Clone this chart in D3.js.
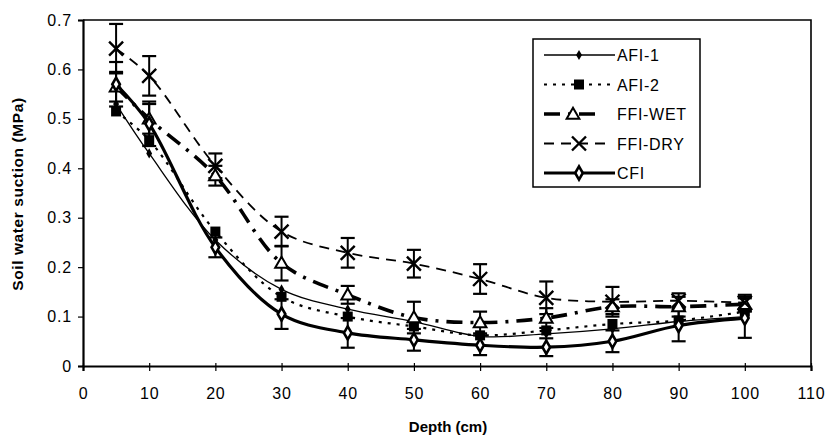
<!DOCTYPE html>
<html>
<head>
<meta charset="utf-8">
<script src="https://cdn.jsdelivr.net/npm/d3@7"></script>
<style>
  body { margin: 0; background: #fff; }
  svg { display: block; font-family: "Liberation Sans", Arial, sans-serif; }
</style>
</head>
<body>
<svg id="chart" width="827" height="439"></svg>
<script>
// depth (cm)
var depths = [5, 10, 20, 30, 40, 50, 60, 70, 80, 90, 100];

// soil water suction (MPa)
var afi1 = [0.53, 0.43, 0.255, 0.155, 0.115, 0.09, 0.06, 0.065, 0.075, 0.09, 0.10];
var afi2 = [0.515, 0.457, 0.272, 0.14, 0.10, 0.08, 0.062, 0.072, 0.085, 0.092, 0.11];
var ffiWet = [0.565, 0.50, 0.385, 0.208, 0.144, 0.098, 0.088, 0.097, 0.12, 0.12, 0.125];
var ffiDry = [0.642, 0.587, 0.405, 0.272, 0.229, 0.207, 0.176, 0.138, 0.13, 0.132, 0.128];
var cfi = [0.57, 0.49, 0.24, 0.105, 0.067, 0.053, 0.042, 0.038, 0.05, 0.082, 0.097];

// error bar half-widths
var ffiWetErr = [0.03, 0.03, 0.02, 0.035, 0.018, 0.032, 0.022, 0.02, 0.015, 0.02, 0.015];
var ffiDryErr = [0.05, 0.04, 0.025, 0.03, 0.03, 0.028, 0.03, 0.033, 0.03, 0.015, 0.016];
var cfiErr = [0.045, 0.045, 0.02, 0.03, 0.03, 0.022, 0.02, 0.018, 0.022, 0.032, 0.04];

var xTicks = [0, 10, 20, 30, 40, 50, 60, 70, 80, 90, 100, 110];
var yTicks = [0, 0.1, 0.2, 0.3, 0.4, 0.5, 0.6, 0.7];

var series = [
  {name: "AFI-1", vals: afi1, err: null, width: 1.3, dash: null, marker: "dot", legEnd: 615},
  {name: "AFI-2", vals: afi2, err: null, width: 2.2, dash: "3,6", marker: "square", legEnd: 615},
  {name: "FFI-WET", vals: ffiWet, err: ffiWetErr, width: 3.6, dash: "16,8,3,8", marker: "triangle", legEnd: 600},
  {name: "FFI-DRY", vals: ffiDry, err: ffiDryErr, width: 1.8, dash: "10,7", marker: "cross", legEnd: 607},
  {name: "CFI", vals: cfi, err: cfiErr, width: 3.2, dash: null, marker: "diamond", legEnd: 615}
];

var svg = d3.select("#chart");
var plotL = 83, plotR = 811, plotT = 20, plotB = 366;

var x = d3.scaleLinear().domain([0, 110]).range([plotL, plotR]);
var y = d3.scaleLinear().domain([0, 0.7]).range([plotB, plotT]);

// plot frame (top and right)
svg.append("path")
  .attr("d", "M" + plotL + "," + plotT + "H" + plotR + "V" + plotB)
  .attr("fill", "none").attr("stroke", "#000").attr("stroke-width", 1.6);

// axes
var yAxis = svg.append("g")
  .attr("transform", "translate(" + plotL + ",0)")
  .call(d3.axisLeft(y).tickValues(yTicks).tickSize(5).tickPadding(6)
    .tickFormat(function(d) { return d === 0 ? "0" : d3.format(".1f")(d); }));
var xAxis = svg.append("g")
  .attr("transform", "translate(0," + plotB + ")")
  .call(d3.axisBottom(x).tickValues(xTicks).tickSize(5).tickPadding(17));
[xAxis, yAxis].forEach(function(a) {
  a.select(".domain").attr("stroke-width", 2.2);
  a.selectAll(".tick line").attr("stroke-width", 1.2);
  a.selectAll(".tick text").attr("font-size", 16).attr("fill", "#000")
    .attr("letter-spacing", 0.8)
    .attr("font-family", "Liberation Sans, Arial, sans-serif");
});
xAxis.selectAll(".tick line").attr("y1", -3);

// axis titles
svg.append("text").attr("x", 448).attr("y", 432).attr("text-anchor", "middle")
  .attr("font-size", 15).attr("font-weight", "bold").text("Depth (cm)");
svg.append("text").attr("transform", "translate(23,194) rotate(-90)")
  .attr("text-anchor", "middle").attr("font-size", 15.5).attr("font-weight", "bold")
  .attr("letter-spacing", 0.6)
  .text("Soil water suction (MPa)");

var line = d3.line().curve(d3.curveCatmullRom)
  .x(function(d, i) { return x(depths[i]); })
  .y(function(d) { return y(d); });

function drawMarker(g, type, cx, cy) {
  if (type === "dot") {
    g.append("path").attr("d", d3.symbol(d3.symbolDiamond, 30)())
      .attr("transform", "translate(" + cx + "," + cy + ")").attr("fill", "#000");
  } else if (type === "square") {
    g.append("rect").attr("x", cx - 5).attr("y", cy - 5).attr("width", 10).attr("height", 10)
      .attr("fill", "#000");
  } else if (type === "triangle") {
    g.append("path").attr("d", d3.symbol(d3.symbolTriangle, 70)())
      .attr("transform", "translate(" + cx + "," + (cy + 1) + ")")
      .attr("fill", "#fff").attr("stroke", "#000").attr("stroke-width", 2);
  } else if (type === "cross") {
    g.append("path").attr("d", "M-7,-7L7,7M-7,7L7,-7")
      .attr("transform", "translate(" + cx + "," + cy + ")")
      .attr("stroke", "#000").attr("stroke-width", 2.4);
  } else if (type === "diamond") {
    g.append("path").attr("d", d3.symbol(d3.symbolDiamond, 50)())
      .attr("transform", "translate(" + cx + "," + cy + ")")
      .attr("fill", "#fff").attr("stroke", "#000").attr("stroke-width", 2.6);
  }
}

// error bars
series.forEach(function(s) {
  if (!s.err) return;
  var g = svg.append("g");
  s.vals.forEach(function(v, i) {
    var cx = x(depths[i]);
    var y0 = y(v - s.err[i]), y1 = y(v + s.err[i]);
    g.append("line").attr("x1", cx).attr("x2", cx).attr("y1", y0).attr("y2", y1)
      .attr("stroke", "#000").attr("stroke-width", 2);
    [y0, y1].forEach(function(yy) {
      g.append("line").attr("x1", cx - 7).attr("x2", cx + 7).attr("y1", yy).attr("y2", yy)
        .attr("stroke", "#000").attr("stroke-width", 2.2);
    });
  });
});

// series lines and markers
series.forEach(function(s) {
  var g = svg.append("g");
  g.append("path").attr("d", line(s.vals)).attr("fill", "none")
    .attr("stroke", "#000").attr("stroke-width", s.width)
    .attr("stroke-dasharray", s.dash);
  s.vals.forEach(function(v, i) { drawMarker(g, s.marker, x(depths[i]), y(v)); });
});

// legend
var lg = svg.append("g");
lg.append("rect").attr("x", 533).attr("y", 39).attr("width", 167).attr("height", 148)
  .attr("fill", "#fff").attr("stroke", "#000").attr("stroke-width", 1.5);
series.forEach(function(s, i) {
  var ly = 55 + i * 29.5;
  lg.append("line").attr("x1", 544).attr("x2", s.legEnd).attr("y1", ly).attr("y2", ly)
    .attr("stroke", "#000").attr("stroke-width", s.width).attr("stroke-dasharray", s.dash);
  drawMarker(lg, s.marker, i === 2 ? 573 : 579, ly);
  lg.append("text").attr("x", 617).attr("y", ly + 6)
    .attr("font-size", 16).attr("letter-spacing", 0.7).text(s.name);
});
</script>
</body>
</html>
